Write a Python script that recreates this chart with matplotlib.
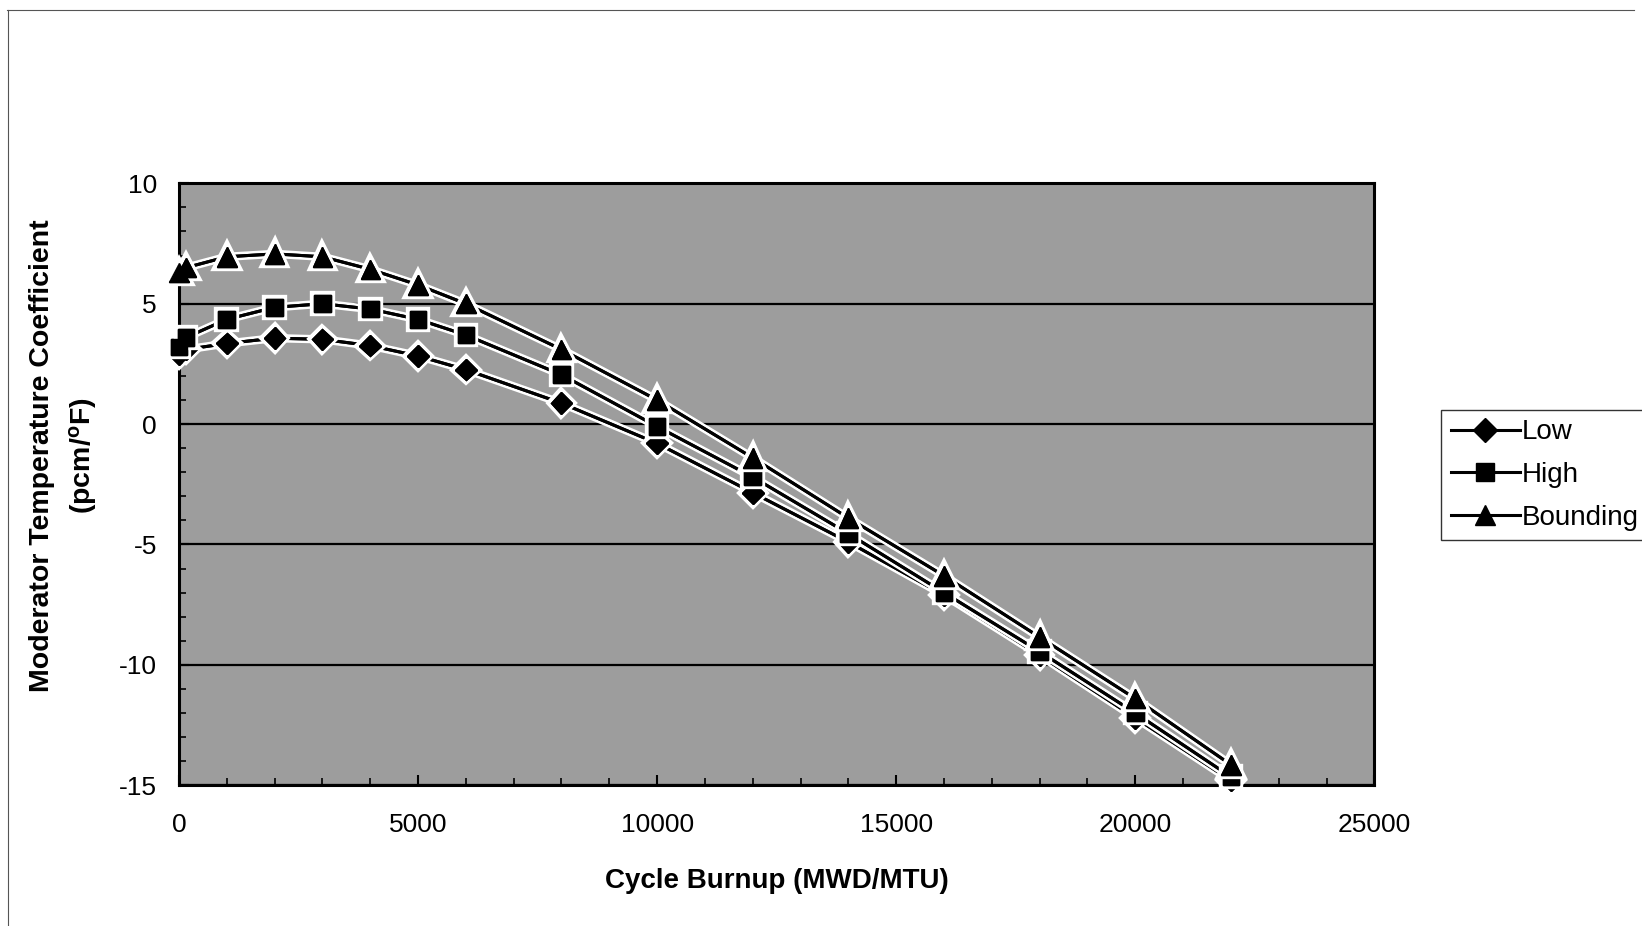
#!/usr/bin/env python3
"""Moderator temperature coefficient vs cycle burnup (Low / High / Bounding)."""

import matplotlib

matplotlib.use("Agg")

import matplotlib.patheffects as pe
import matplotlib.pyplot as plt
from matplotlib.lines import Line2D
from matplotlib.ticker import MultipleLocator


burnup = [0, 150, 1000, 2000, 3000, 4000, 5000, 6000, 8000,
          10000, 12000, 14000, 16000, 18000, 20000, 22000]
mtc_low = [2.9, 3.1, 3.35, 3.57, 3.52, 3.26, 2.83, 2.26, 0.87,
           -0.8, -2.85, -4.9, -7.1, -9.6, -12.2, -14.8]
mtc_high = [3.2, 3.6, 4.35, 4.85, 5.0, 4.78, 4.35, 3.7, 2.05,
            -0.1, -2.2, -4.55, -7.0, -9.45, -12.0, -14.65]
mtc_bounding = [6.3, 6.5, 6.95, 7.07, 6.95, 6.43, 5.78, 5.0, 3.1,
                1.0, -1.4, -3.9, -6.3, -8.85, -11.4, -14.15]

series = [
    ("Low", mtc_low, "D", 11),
    ("High", mtc_high, "s", 12),
    ("Bounding", mtc_bounding, "^", 14),
]

plt.rcParams["font.family"] = ["Liberation Sans", "DejaVu Sans"]
plt.rcParams["mathtext.default"] = "regular"
plt.rcParams["axes.unicode_minus"] = False

fig = plt.figure(figsize=(16.42, 9.26), dpi=100)
ax = fig.add_axes([0.109, 0.152, 0.728, 0.650])
ax.set_facecolor("#9d9d9d")

halo = [pe.withStroke(linewidth=6, foreground="white"), pe.Normal()]
handles = []
for name, values, marker, size in series:
    ax.plot(burnup, values, color="black", linewidth=2.2, marker=marker,
            markersize=size, markerfacecolor="black", markeredgecolor="black",
            path_effects=halo, zorder=3, clip_on=False)
    handles.append(Line2D([], [], color="black", linewidth=2.2, marker=marker,
                          markersize=size + 1, label=name))

ax.set_xlim(0, 25000)
ax.set_ylim(-15, 10)
ax.xaxis.set_major_locator(MultipleLocator(5000))
ax.xaxis.set_minor_locator(MultipleLocator(1000))
ax.yaxis.set_major_locator(MultipleLocator(5))
ax.yaxis.set_minor_locator(MultipleLocator(1))
ax.tick_params(axis="both", which="both", direction="in", color="black")
ax.tick_params(axis="both", which="major", length=7, width=1.5, labelsize=19)
ax.tick_params(axis="both", which="minor", length=5, width=1.2)
ax.tick_params(axis="x", which="major", pad=20)
ax.tick_params(axis="y", which="major", pad=16)
ax.grid(axis="y", which="major", color="black", linewidth=1.6)
for spine in ax.spines.values():
    spine.set_linewidth(2.2)
    spine.set_color("black")

ax.set_xlabel("Cycle Burnup (MWD/MTU)", fontsize=20, fontweight="bold",
              labelpad=22)
ax.set_ylabel("Moderator Temperature Coefficient\n(pcm/$^o$F)", fontsize=20.5,
              fontweight="bold", linespacing=1.5)
ax.yaxis.set_label_coords(-0.067, 0.547)

leg = fig.legend(handles=handles, loc="center left",
                 bbox_to_anchor=(0.8775, 0.487), borderaxespad=0,
                 fontsize=20, frameon=True, fancybox=False, edgecolor="black",
                 handlelength=2.5, handletextpad=0.05, borderpad=0.35,
                 labelspacing=0.6)
leg.get_frame().set_linewidth(1.0)

# scanned page border
fig.add_artist(Line2D([0.004, 0.995], [0.989, 0.989], color="#555555",
                      linewidth=0.8, transform=fig.transFigure))
fig.add_artist(Line2D([0.005, 0.005], [0.0, 0.989], color="#555555",
                      linewidth=0.8, transform=fig.transFigure))

fig.savefig("out.png", dpi=100)
